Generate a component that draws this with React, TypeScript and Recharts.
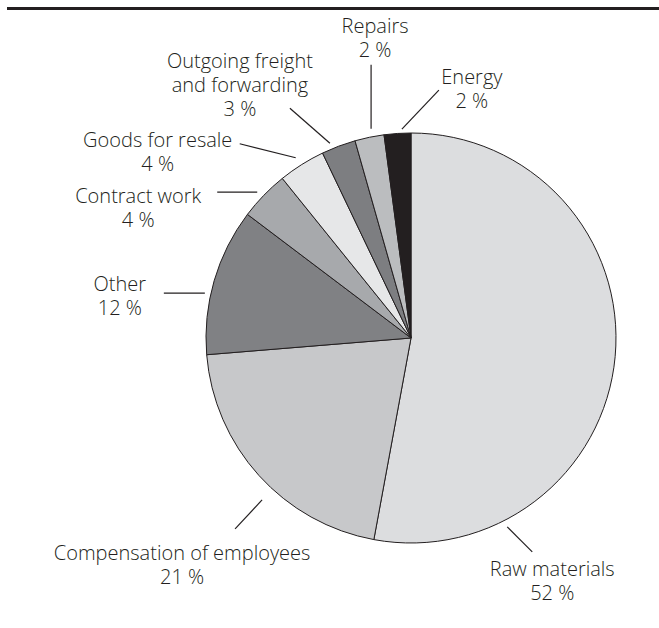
import React from 'react';
import { PieChart, Pie, Cell } from 'recharts';

// cost structure shares (slice sizes), clockwise from 12 o'clock
const categories = [
    'Raw materials',
    'Compensation of employees',
    'Other',
    'Contract work',
    'Goods for resale',
    'Outgoing freight and forwarding',
    'Repairs',
    'Energy',
];
const shares = [52.9, 20.8, 11.6, 3.9, 3.7, 2.7, 2.3, 2.1];
const shownPercent = [52, 21, 12, 4, 4, 3, 2, 2];
const nameLines = [
    ['Raw materials'],
    ['Compensation of employees'],
    ['Other'],
    ['Contract work'],
    ['Goods for resale'],
    ['Outgoing freight', 'and forwarding'],
    ['Repairs'],
    ['Energy'],
];

const colors = ['#dcdddf', '#c7c8ca', '#808184', '#a7a9ac', '#e6e7e8', '#7d7e81', '#bbbdbf', '#231f20'];
const ink = '#231f20';

// leader line: starts at `angle` (deg, ccw from 3 o'clock), `gap` px outside the rim,
// runs by (dx, dy); text block starts at (tx, ty) from the line's far end
const labelLayout = [
    { angle: -63, gap: 7, dx: 25, dy: 25, tx: 20, ty: 24 },
    { angle: -132.6, gap: 15, dx: -27, dy: 29, tx: -53, ty: 31 },
    { angle: 167.7, gap: 6, dx: -41, dy: 0, tx: -44, ty: -2 },
    { angle: 136.5, gap: 7, dx: -40, dy: 0, tx: -79, ty: 11 },
    { angle: 122.6, gap: 9, dx: -56, dy: -14, tx: -82, ty: 3 },
    { angle: 112.6, gap: 6, dx: -40, dy: -35, tx: -50, ty: -40 },
    { angle: 100.8, gap: 8, dx: 0, dy: -64, tx: 4, ty: -32 },
    { angle: 92.5, gap: 4, dx: 37, dy: -39, tx: 33, ty: -6 },
];

const data = categories.map((name, i) => ({ name, value: shares[i] }));

const RAD = Math.PI / 180;

const renderLabel = (props: any) => {
    const { cx, cy, outerRadius, index } = props;
    const lay = labelLayout[index];
    const r = outerRadius + lay.gap;
    const x1 = cx + r * Math.cos(-lay.angle * RAD);
    const y1 = cy + r * Math.sin(-lay.angle * RAD);
    const x2 = x1 + lay.dx;
    const y2 = y1 + lay.dy;
    const lines = [...nameLines[index], `${shownPercent[index]} %`];
    return (
        <g key={`lbl-${index}`}>
            <line x1={x1} y1={y1} x2={x2} y2={y2} stroke={ink} strokeWidth={1.2} />
            <text
                x={x2 + lay.tx}
                y={y2 + lay.ty}
                textAnchor="middle"
                fill={ink}
                style={{ fontFamily: '"Open Sans", sans-serif', fontSize: 20, fontWeight: 300 }}
            >
                {lines.map((ln, j) => (
                    <tspan key={j} x={x2 + lay.tx} dy={j === 0 ? 0 : 24}>{ln}</tspan>
                ))}
            </text>
        </g>
    );
};

const App: React.FC = () => {
    return (
        <div style={{ position: 'absolute', left: 0, top: 0, width: 659, height: 628, background: '#fff' }}>
            <div style={{ position: 'absolute', left: 7, top: 7, width: 652, height: 3, background: ink }} />
            <PieChart width={659} height={628} margin={{ top: 0, right: 0, bottom: 0, left: 0 }}>
                <Pie
                    data={data}
                    dataKey="value"
                    cx={411}
                    cy={338}
                    outerRadius={205}
                    startAngle={90}
                    endAngle={-270}
                    stroke={ink}
                    strokeWidth={1}
                    label={renderLabel}
                    labelLine={false}
                    isAnimationActive={false}
                >
                    {data.map((d, i) => (
                        <Cell key={d.name} fill={colors[i]} />
                    ))}
                </Pie>
            </PieChart>
        </div>
    );
};

export default App;
